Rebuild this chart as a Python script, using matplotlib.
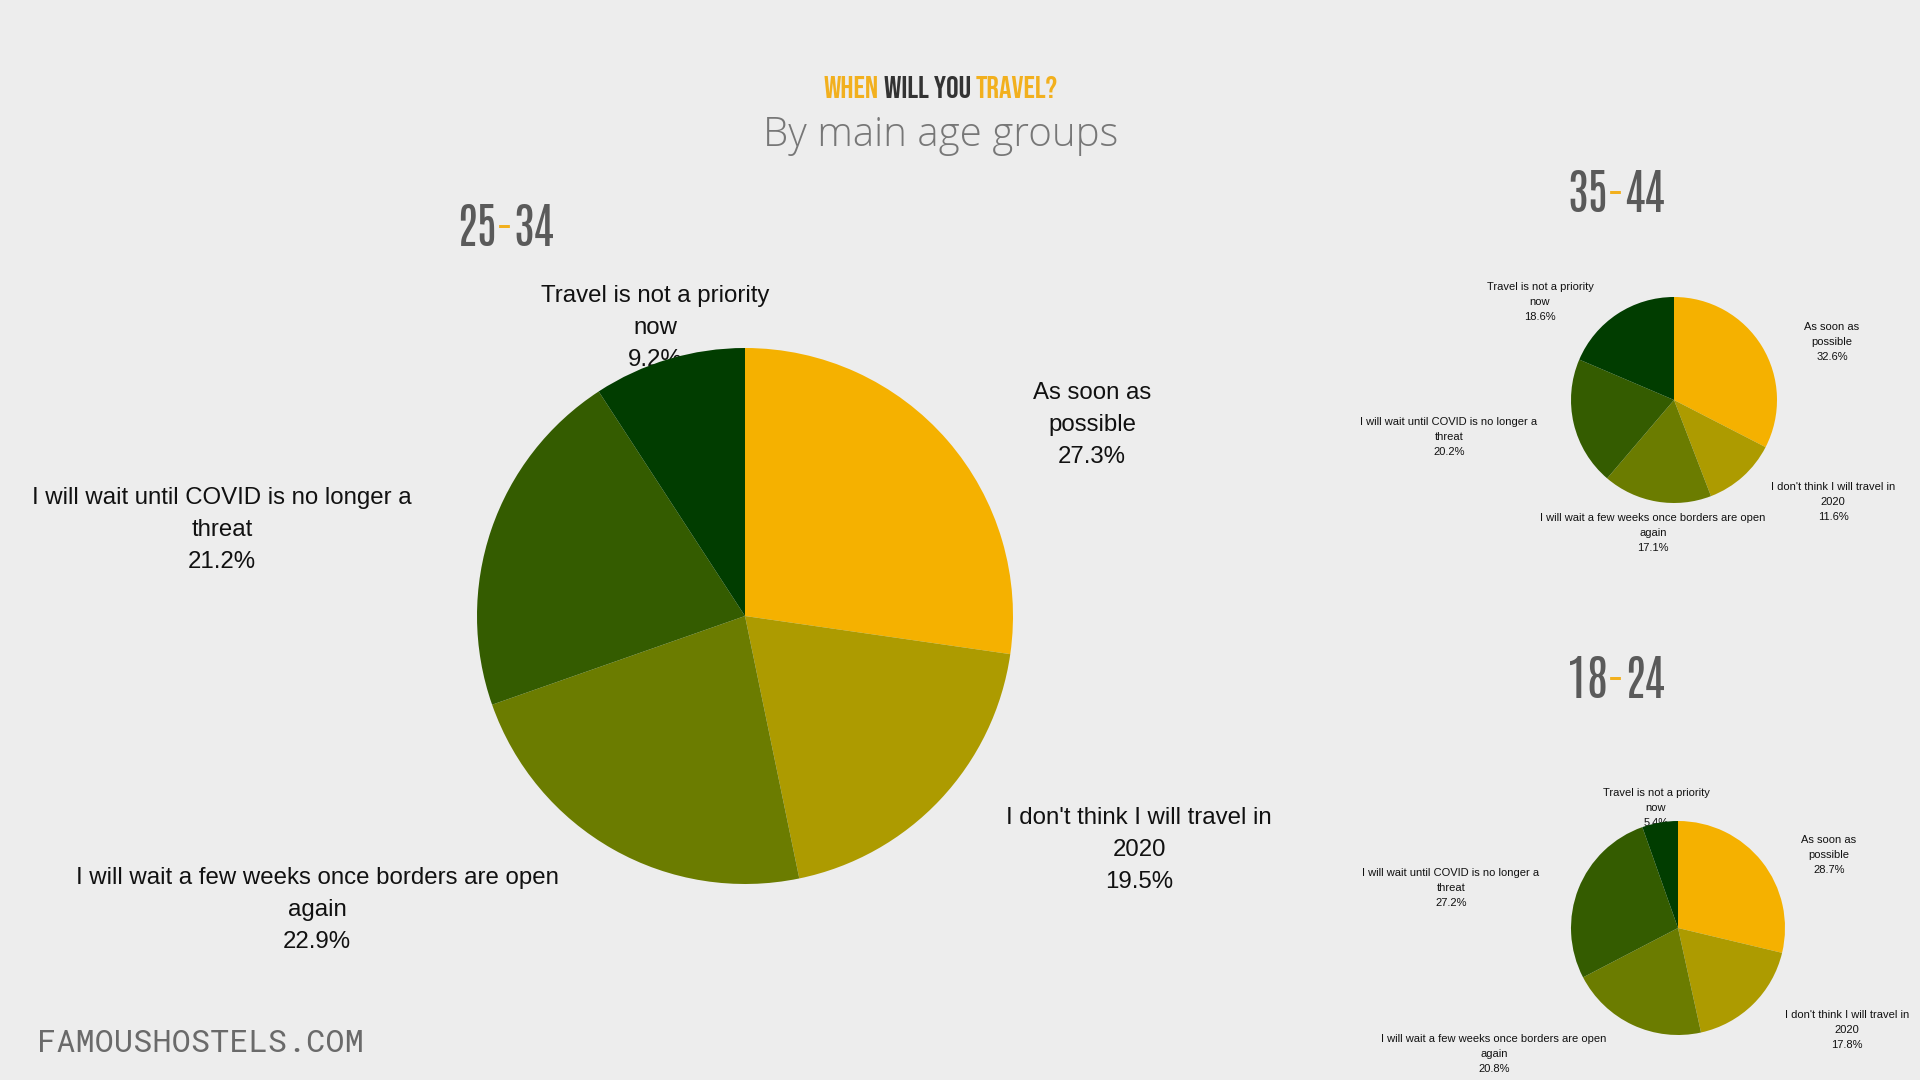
import matplotlib.pyplot as plt

# answers, in the order the slices run clockwise from 12 o'clock
answers = ['As soon as\npossible',
           "I don't think I will travel in\n2020",
           'I will wait a few weeks once borders are open\nagain',
           'I will wait until COVID is no longer a\nthreat',
           'Travel is not a priority\nnow']
share_25_34 = [27.3, 19.5, 22.9, 21.2, 9.2]
share_35_44 = [32.6, 11.6, 17.1, 20.2, 18.6]
share_18_24 = [28.7, 17.8, 20.8, 27.2, 5.4]
colors = ['#F5B100', '#AD9B00', '#6B7C00', '#345C00', '#013D00']

W, H = 1920, 1080
BG = '#EDEDED'
ORANGE = '#F2B01E'
NARROW = ['Bebas Neue', 'Oswald', 'DejaVu Sans']
THIN = ['Antonio', 'Bebas Neue', 'DejaVu Sans']

fig = plt.figure(figsize=(W / 100, H / 100), dpi=100, facecolor=BG)
renderer = fig.canvas.get_renderer()


def fx(x):
    return x / W


def fy(y):
    return 1 - y / H


def multicolor(cx, cy, parts, **kw):
    texts = [fig.text(0, fy(cy), s, color=c, ha='left', va='center', **kw) for s, c in parts]
    widths = [t.get_window_extent(renderer).width for t in texts]
    x = cx - sum(widths) / 2
    for t, w in zip(texts, widths):
        t.set_x(fx(x))
        x += w


def draw_pie(values, cx, cy, r, label_pos, fontsize, spacing):
    ax = fig.add_axes([fx(cx - r), fy(cy + r), 2 * r / W, 2 * r / H])
    ax.pie(values, colors=colors, startangle=90, counterclock=False,
           wedgeprops=dict(linewidth=0))
    ax.set_xlim(-1, 1)
    ax.set_ylim(-1, 1)
    ax.set_aspect('equal')
    ax.axis('off')
    for name, v, (x, y) in zip(answers, values, label_pos):
        fig.text(fx(x), fy(y), f'{name}\n{v:.1f}%', ha='center', va='center',
                 fontsize=fontsize, family='Liberation Sans', color='#111111',
                 linespacing=spacing, zorder=-1)


# big pie 25-34
draw_pie(share_25_34, 745, 616, 268,
         [(1092, 425), (1139, 850), (317, 910), (222, 530), (655, 328)], 17.3, 1.6)
# 35-44
draw_pie(share_35_44, 1674, 400, 103,
         [(1832, 342), (1833, 502), (1653, 533), (1449, 437), (1540, 302)], 8, 1.6)
# 18-24
draw_pie(share_18_24, 1678, 928, 107,
         [(1829, 855), (1847, 1030), (1494, 1054), (1451, 888), (1656, 808)], 8, 1.6)

# headings
multicolor(941, 87, [('WHEN', ORANGE), (' WILL YOU ', '#333333'), ('TRAVEL?', ORANGE)],
           fontsize=22.5, family=NARROW)
fig.text(0.49, fy(136), 'By main age groups', ha='center', va='center',
         fontsize=29, family='Open Sans', fontweight='light', color='#777777')

for cx, cy, a, b in [(505, 228, '25', '34'), (1616, 194, '35', '44'), (1616, 680, '18', '24')]:
    multicolor(cx, cy, [(a, '#5A5A5A'), ('-', ORANGE), (b, '#5A5A5A')],
               fontsize=35, family=THIN)

fig.text(fx(37), fy(1043), 'FAMOUSHOSTELS.COM', ha='left', va='center',
         fontsize=23, family=['Roboto Mono', 'DejaVu Sans Mono'], color='#6A6A6A')

fig.savefig('out.png', dpi=100, facecolor=BG)
